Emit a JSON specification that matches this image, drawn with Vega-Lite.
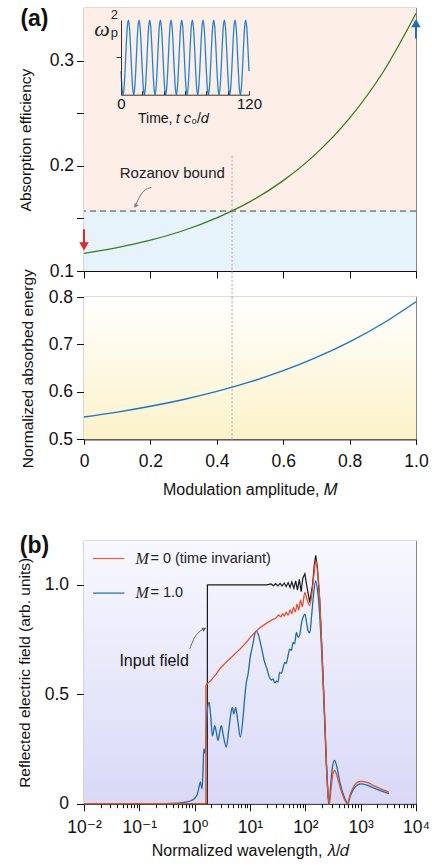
{
  "$schema": "https://vega.github.io/schema/vega-lite/v6.json",
  "background": "white",
  "padding": {"left": 16, "top": 7, "right": 0, "bottom": 0},
  "spacing": 26,
  "bounds": "flush",
  "config": {
    "font": "Liberation Sans, DejaVu Sans",
    "view": {"stroke": "#777777", "strokeWidth": 1.2},
    "axis": {
      "domainColor": "#111111", "tickColor": "#111111", "labelColor": "#111111", "titleColor": "#111111",
      "labelFont": "Liberation Sans, DejaVu Sans", "titleFont": "Liberation Sans, DejaVu Sans",
      "labelFontSize": 17.5, "titleFontSize": 15.5, "titleFontWeight": "normal",
      "grid": false, "tickSize": 7.5, "labelPadding": 3, "labelFlush": false, "domainWidth": 1, "tickWidth": 1, "zindex": 1
    },
    "text": {"font": "Liberation Sans, DejaVu Sans"}
  },
  "datasets": {
    "lines": [
      {"s": "in", "x": 0.01, "y": 0}, {"s": "in", "x": 1.69, "y": 0}, {"s": "in", "x": 1.7, "y": 1.0}, {"s": "in", "x": 3, "y": 1.0}, {"s": "in", "x": 10, "y": 1.0}, {"s": "in", "x": 20, "y": 1.0},
      {"s": "in", "x": 24, "y": 1.004}, {"s": "in", "x": 26.5, "y": 0.996}, {"s": "in", "x": 29, "y": 1.005}, {"s": "in", "x": 32, "y": 0.995}, {"s": "in", "x": 35, "y": 1.006}, {"s": "in", "x": 38, "y": 0.994},
      {"s": "in", "x": 41.5, "y": 1.008}, {"s": "in", "x": 45, "y": 0.992}, {"s": "in", "x": 49, "y": 1.01}, {"s": "in", "x": 53, "y": 0.988}, {"s": "in", "x": 57, "y": 1.013}, {"s": "in", "x": 62, "y": 0.984},
      {"s": "in", "x": 67, "y": 1.018}, {"s": "in", "x": 72, "y": 0.976}, {"s": "in", "x": 78, "y": 1.025}, {"s": "in", "x": 84, "y": 0.968}, {"s": "in", "x": 90, "y": 1.03}, {"s": "in", "x": 98, "y": 1.05},
      {"s": "in", "x": 108, "y": 0.985}, {"s": "in", "x": 120, "y": 0.92}, {"s": "in", "x": 135, "y": 1.0}, {"s": "in", "x": 145, "y": 1.09}, {"s": "in", "x": 154, "y": 1.135}, {"s": "in", "x": 165, "y": 1.08},
      {"s": "in", "x": 182, "y": 0.93}, {"s": "in", "x": 195, "y": 0.76}, {"s": "in", "x": 209, "y": 0.585}, {"s": "in", "x": 224, "y": 0.39}, {"s": "in", "x": 240, "y": 0.19}, {"s": "in", "x": 255, "y": 0.055}, {"s": "in", "x": 264, "y": 0},

      {"s": "m1", "x": 0.01, "y": 0}, {"s": "m1", "x": 0.3, "y": 0}, {"s": "m1", "x": 0.5, "y": 0.002}, {"s": "m1", "x": 0.71, "y": 0.008}, {"s": "m1", "x": 0.9, "y": 0.016}, {"s": "m1", "x": 1.0, "y": 0.025},
      {"s": "m1", "x": 1.1, "y": 0.04}, {"s": "m1", "x": 1.15, "y": 0.055}, {"s": "m1", "x": 1.22, "y": 0.085}, {"s": "m1", "x": 1.27, "y": 0.1}, {"s": "m1", "x": 1.32, "y": 0.08}, {"s": "m1", "x": 1.36, "y": 0.068},
      {"s": "m1", "x": 1.42, "y": 0.16}, {"s": "m1", "x": 1.46, "y": 0.25}, {"s": "m1", "x": 1.5, "y": 0.245}, {"s": "m1", "x": 1.56, "y": 0.228}, {"s": "m1", "x": 1.62, "y": 0.34}, {"s": "m1", "x": 1.7, "y": 0.43},
      {"s": "m1", "x": 1.82, "y": 0.464}, {"s": "m1", "x": 1.95, "y": 0.4}, {"s": "m1", "x": 2.09, "y": 0.31}, {"s": "m1", "x": 2.2, "y": 0.33}, {"s": "m1", "x": 2.3, "y": 0.357}, {"s": "m1", "x": 2.45, "y": 0.33},
      {"s": "m1", "x": 2.64, "y": 0.289}, {"s": "m1", "x": 2.85, "y": 0.33}, {"s": "m1", "x": 3.03, "y": 0.357}, {"s": "m1", "x": 3.3, "y": 0.31}, {"s": "m1", "x": 3.73, "y": 0.258}, {"s": "m1", "x": 4.1, "y": 0.33},
      {"s": "m1", "x": 4.5, "y": 0.41}, {"s": "m1", "x": 4.79, "y": 0.44}, {"s": "m1", "x": 5.1, "y": 0.41}, {"s": "m1", "x": 5.5, "y": 0.44}, {"s": "m1", "x": 6.0, "y": 0.38}, {"s": "m1", "x": 6.7, "y": 0.304},
      {"s": "m1", "x": 7.4, "y": 0.38}, {"s": "m1", "x": 8.0, "y": 0.48}, {"s": "m1", "x": 8.6, "y": 0.555}, {"s": "m1", "x": 9.2, "y": 0.59}, {"s": "m1", "x": 10.2, "y": 0.676}, {"s": "m1", "x": 11.3, "y": 0.73},
      {"s": "m1", "x": 12.2, "y": 0.775}, {"s": "m1", "x": 13, "y": 0.788}, {"s": "m1", "x": 14, "y": 0.775}, {"s": "m1", "x": 15.9, "y": 0.72}, {"s": "m1", "x": 18.4, "y": 0.646}, {"s": "m1", "x": 19.7, "y": 0.625},
      {"s": "m1", "x": 22.7, "y": 0.575}, {"s": "m1", "x": 24.3, "y": 0.565}, {"s": "m1", "x": 26, "y": 0.57}, {"s": "m1", "x": 28, "y": 0.552}, {"s": "m1", "x": 30, "y": 0.56}, {"s": "m1", "x": 32, "y": 0.555},
      {"s": "m1", "x": 34.4, "y": 0.6}, {"s": "m1", "x": 37, "y": 0.595}, {"s": "m1", "x": 40, "y": 0.625}, {"s": "m1", "x": 42.4, "y": 0.646}, {"s": "m1", "x": 45, "y": 0.64}, {"s": "m1", "x": 49, "y": 0.68},
      {"s": "m1", "x": 52, "y": 0.706}, {"s": "m1", "x": 56, "y": 0.7}, {"s": "m1", "x": 60, "y": 0.737}, {"s": "m1", "x": 64, "y": 0.73}, {"s": "m1", "x": 69, "y": 0.783}, {"s": "m1", "x": 74, "y": 0.76},
      {"s": "m1", "x": 79, "y": 0.77}, {"s": "m1", "x": 86, "y": 0.83}, {"s": "m1", "x": 92, "y": 0.855}, {"s": "m1", "x": 98, "y": 0.866}, {"s": "m1", "x": 105, "y": 0.83}, {"s": "m1", "x": 112, "y": 0.79},
      {"s": "m1", "x": 120, "y": 0.78}, {"s": "m1", "x": 130, "y": 0.86}, {"s": "m1", "x": 140, "y": 0.95}, {"s": "m1", "x": 154, "y": 1.018}, {"s": "m1", "x": 165, "y": 0.98}, {"s": "m1", "x": 182, "y": 0.86},
      {"s": "m1", "x": 195, "y": 0.72}, {"s": "m1", "x": 209, "y": 0.555}, {"s": "m1", "x": 224, "y": 0.37}, {"s": "m1", "x": 240, "y": 0.175}, {"s": "m1", "x": 255, "y": 0.05}, {"s": "m1", "x": 268, "y": 0},
      {"s": "m1", "x": 290, "y": 0.1}, {"s": "m1", "x": 310, "y": 0.17}, {"s": "m1", "x": 339, "y": 0.198}, {"s": "m1", "x": 370, "y": 0.17}, {"s": "m1", "x": 420, "y": 0.1}, {"s": "m1", "x": 490, "y": 0.04},
      {"s": "m1", "x": 550, "y": 0.01}, {"s": "m1", "x": 585, "y": 0}, {"s": "m1", "x": 650, "y": 0.035}, {"s": "m1", "x": 760, "y": 0.07}, {"s": "m1", "x": 900, "y": 0.087}, {"s": "m1", "x": 1020, "y": 0.091},
      {"s": "m1", "x": 1300, "y": 0.085}, {"s": "m1", "x": 1800, "y": 0.07}, {"s": "m1", "x": 2500, "y": 0.056}, {"s": "m1", "x": 3240, "y": 0.046},

      {"s": "m0", "x": 0.01, "y": 0}, {"s": "m0", "x": 1.59, "y": 0}, {"s": "m0", "x": 1.595, "y": 0.54}, {"s": "m0", "x": 1.7, "y": 0.548}, {"s": "m0", "x": 2, "y": 0.565}, {"s": "m0", "x": 2.4, "y": 0.59},
      {"s": "m0", "x": 2.83, "y": 0.615}, {"s": "m0", "x": 3.5, "y": 0.64}, {"s": "m0", "x": 4.2, "y": 0.66}, {"s": "m0", "x": 4.93, "y": 0.676}, {"s": "m0", "x": 6.5, "y": 0.705}, {"s": "m0", "x": 8.6, "y": 0.737},
      {"s": "m0", "x": 11, "y": 0.77}, {"s": "m0", "x": 14.6, "y": 0.8}, {"s": "m0", "x": 20, "y": 0.825}, {"s": "m0", "x": 25, "y": 0.84}, {"s": "m0", "x": 30, "y": 0.85}, {"s": "m0", "x": 33, "y": 0.862},
      {"s": "m0", "x": 36, "y": 0.853}, {"s": "m0", "x": 39, "y": 0.868}, {"s": "m0", "x": 42, "y": 0.857}, {"s": "m0", "x": 45, "y": 0.875}, {"s": "m0", "x": 49, "y": 0.861}, {"s": "m0", "x": 53, "y": 0.885},
      {"s": "m0", "x": 57, "y": 0.868}, {"s": "m0", "x": 61, "y": 0.897}, {"s": "m0", "x": 66, "y": 0.876}, {"s": "m0", "x": 71, "y": 0.912}, {"s": "m0", "x": 76, "y": 0.885}, {"s": "m0", "x": 82, "y": 0.93},
      {"s": "m0", "x": 88, "y": 0.9}, {"s": "m0", "x": 98, "y": 0.965}, {"s": "m0", "x": 108, "y": 0.93}, {"s": "m0", "x": 120, "y": 0.905}, {"s": "m0", "x": 135, "y": 0.985}, {"s": "m0", "x": 145, "y": 1.06},
      {"s": "m0", "x": 154, "y": 1.11}, {"s": "m0", "x": 165, "y": 1.07}, {"s": "m0", "x": 182, "y": 0.93}, {"s": "m0", "x": 195, "y": 0.76}, {"s": "m0", "x": 209, "y": 0.58}, {"s": "m0", "x": 224, "y": 0.39},
      {"s": "m0", "x": 240, "y": 0.19}, {"s": "m0", "x": 255, "y": 0.055}, {"s": "m0", "x": 272, "y": 0}, {"s": "m0", "x": 295, "y": 0.08}, {"s": "m0", "x": 315, "y": 0.135}, {"s": "m0", "x": 339, "y": 0.152},
      {"s": "m0", "x": 370, "y": 0.13}, {"s": "m0", "x": 420, "y": 0.08}, {"s": "m0", "x": 490, "y": 0.03}, {"s": "m0", "x": 540, "y": 0.008}, {"s": "m0", "x": 575, "y": 0}, {"s": "m0", "x": 650, "y": 0.045},
      {"s": "m0", "x": 760, "y": 0.082}, {"s": "m0", "x": 900, "y": 0.1}, {"s": "m0", "x": 1020, "y": 0.102}, {"s": "m0", "x": 1300, "y": 0.097}, {"s": "m0", "x": 1800, "y": 0.08}, {"s": "m0", "x": 2500, "y": 0.064},
      {"s": "m0", "x": 3240, "y": 0.053}
    ],
    "inset": [
      {"t":0,"w":0.632},{"t":1,"w":0.156},{"t":2,"w":0.002},{"t":3,"w":0.229},{"t":4,"w":0.751},{"t":5,"w":1.368},{"t":6,"w":1.844},{"t":7,"w":1.998},{"t":8,"w":1.771},{"t":9,"w":1.249},
      {"t":10,"w":0.632},{"t":11,"w":0.156},{"t":12,"w":0.002},{"t":13,"w":0.229},{"t":14,"w":0.751},{"t":15,"w":1.368},{"t":16,"w":1.844},{"t":17,"w":1.998},{"t":18,"w":1.771},{"t":19,"w":1.249},
      {"t":20,"w":0.632},{"t":21,"w":0.156},{"t":22,"w":0.002},{"t":23,"w":0.229},{"t":24,"w":0.751},{"t":25,"w":1.368},{"t":26,"w":1.844},{"t":27,"w":1.998},{"t":28,"w":1.771},{"t":29,"w":1.249},
      {"t":30,"w":0.632},{"t":31,"w":0.156},{"t":32,"w":0.002},{"t":33,"w":0.229},{"t":34,"w":0.751},{"t":35,"w":1.368},{"t":36,"w":1.844},{"t":37,"w":1.998},{"t":38,"w":1.771},{"t":39,"w":1.249},
      {"t":40,"w":0.632},{"t":41,"w":0.156},{"t":42,"w":0.002},{"t":43,"w":0.229},{"t":44,"w":0.751},{"t":45,"w":1.368},{"t":46,"w":1.844},{"t":47,"w":1.998},{"t":48,"w":1.771},{"t":49,"w":1.249},
      {"t":50,"w":0.632},{"t":51,"w":0.156},{"t":52,"w":0.002},{"t":53,"w":0.229},{"t":54,"w":0.751},{"t":55,"w":1.368},{"t":56,"w":1.844},{"t":57,"w":1.998},{"t":58,"w":1.771},{"t":59,"w":1.249},
      {"t":60,"w":0.632},{"t":61,"w":0.156},{"t":62,"w":0.002},{"t":63,"w":0.229},{"t":64,"w":0.751},{"t":65,"w":1.368},{"t":66,"w":1.844},{"t":67,"w":1.998},{"t":68,"w":1.771},{"t":69,"w":1.249},
      {"t":70,"w":0.632},{"t":71,"w":0.156},{"t":72,"w":0.002},{"t":73,"w":0.229},{"t":74,"w":0.751},{"t":75,"w":1.368},{"t":76,"w":1.844},{"t":77,"w":1.998},{"t":78,"w":1.771},{"t":79,"w":1.249},
      {"t":80,"w":0.632},{"t":81,"w":0.156},{"t":82,"w":0.002},{"t":83,"w":0.229},{"t":84,"w":0.751},{"t":85,"w":1.368},{"t":86,"w":1.844},{"t":87,"w":1.998},{"t":88,"w":1.771},{"t":89,"w":1.249},
      {"t":90,"w":0.632},{"t":91,"w":0.156},{"t":92,"w":0.002},{"t":93,"w":0.229},{"t":94,"w":0.751},{"t":95,"w":1.368},{"t":96,"w":1.844},{"t":97,"w":1.998},{"t":98,"w":1.771},{"t":99,"w":1.249},
      {"t":100,"w":0.632},{"t":101,"w":0.156},{"t":102,"w":0.002},{"t":103,"w":0.229},{"t":104,"w":0.751},{"t":105,"w":1.368},{"t":106,"w":1.844},{"t":107,"w":1.998},{"t":108,"w":1.771},{"t":109,"w":1.249},
      {"t":110,"w":0.632},{"t":111,"w":0.156},{"t":112,"w":0.002},{"t":113,"w":0.229},{"t":114,"w":0.751},{"t":115,"w":1.368},{"t":116,"w":1.844},{"t":117,"w":1.998},{"t":118,"w":1.771},{"t":119,"w":1.249},
      {"t":120,"w":0.632}
    ]
  },
  "vconcat": [
    {
      "width": 332,
      "height": 263,
      "layer": [
        {
          "layer": [
            {
              "data": {"values": [{"y0": 0.1, "y1": 0.157, "z": "b"}, {"y0": 0.157, "y1": 0.35, "z": "p"}]},
              "mark": {"type": "rect"},
              "encoding": {
                "x": {"datum": 0, "type": "quantitative", "scale": {"domain": [0, 1], "nice": false},
                      "axis": {"orient": "bottom", "values": [0, 0.2, 0.4, 0.6, 0.8, 1], "labels": false, "title": null, "tickSize": 7}},
                "x2": {"datum": 1},
                "y": {"field": "y0", "type": "quantitative", "scale": {"domain": [0.1, 0.35], "nice": false, "zero": false},
                      "axis": {"orient": "left", "values": [0.1, 0.15, 0.2, 0.25, 0.3], "labelExpr": "round(datum.value*100)%10==5 ? '' : format(datum.value,'.1f')", "title": "Absorption efficiency", "labelPadding": 3, "titlePadding": 16}},
                "y2": {"field": "y1"},
                "color": {"field": "z", "type": "nominal", "scale": {"domain": ["b", "p"], "range": ["#e6f3fb", "#fdeee8"]}, "legend": null}
              }
            },
            {
              "data": {"values": [{"y": 0.157}]},
              "mark": {"type": "rule", "color": "#444444", "strokeDash": [6, 4], "strokeWidth": 1},
              "encoding": {"y": {"field": "y", "type": "quantitative"}}
            },
            {
              "data": {"values": [{"m": 0.446, "ya": 0.2095, "yb": 0.0752}]},
              "mark": {"type": "rule", "color": "#cdbdbd", "strokeDash": [2, 2], "strokeWidth": 1.5},
              "encoding": {"x": {"field": "m", "type": "quantitative"}, "y": {"field": "ya", "type": "quantitative"}, "y2": {"field": "yb"}}
            },
            {
              "data": {"values": [
                {"m": 0, "a": 0.1167}, {"m": 0.1, "a": 0.1222}, {"m": 0.2, "a": 0.1293}, {"m": 0.3, "a": 0.1385}, {"m": 0.4, "a": 0.1505},
                {"m": 0.5, "a": 0.1659}, {"m": 0.6, "a": 0.1859}, {"m": 0.7, "a": 0.2118}, {"m": 0.8, "a": 0.2453}, {"m": 0.9, "a": 0.2887}, {"m": 1.0, "a": 0.3448}
              ]},
              "mark": {"type": "line", "color": "#3e7b1f", "strokeWidth": 1.3, "interpolate": "monotone"},
              "encoding": {"x": {"field": "m", "type": "quantitative"}, "y": {"field": "a", "type": "quantitative"}}
            },
            {
              "data": {"values": [{"m": 0, "ya": 0.1397, "yb": 0.126}]},
              "mark": {"type": "rule", "color": "#e0282b", "strokeWidth": 2},
              "encoding": {"x": {"field": "m", "type": "quantitative"}, "y": {"field": "ya", "type": "quantitative"}, "y2": {"field": "yb"}}
            },
            {
              "data": {"values": [{"m": 0, "a": 0.1235}]},
              "mark": {"type": "point", "shape": "triangle-down", "filled": true, "color": "#e0282b", "size": 90, "opacity": 1},
              "encoding": {"x": {"field": "m", "type": "quantitative"}, "y": {"field": "a", "type": "quantitative"}}
            },
            {
              "data": {"values": [{"m": 1, "ya": 0.321, "yb": 0.333}]},
              "mark": {"type": "rule", "color": "#1d6fb0", "strokeWidth": 2},
              "encoding": {"x": {"field": "m", "type": "quantitative"}, "y": {"field": "ya", "type": "quantitative"}, "y2": {"field": "yb"}}
            },
            {
              "data": {"values": [{"m": 1, "a": 0.3355}]},
              "mark": {"type": "point", "shape": "triangle-up", "filled": true, "color": "#1d6fb0", "size": 90, "opacity": 1},
              "encoding": {"x": {"field": "m", "type": "quantitative"}, "y": {"field": "a", "type": "quantitative"}}
            },
            {
              "data": {"values": [{"m": 0.203, "a": 0.1795}, {"m": 0.18, "a": 0.176}, {"m": 0.165, "a": 0.169}, {"m": 0.157, "a": 0.1635}]},
              "mark": {"type": "line", "color": "#777777", "strokeWidth": 1, "interpolate": "monotone"},
              "encoding": {"x": {"field": "m", "type": "quantitative"}, "y": {"field": "a", "type": "quantitative"}}
            },
            {
              "data": {"values": [{"m": 0.155, "a": 0.1618}]},
              "mark": {"type": "point", "shape": "triangle-up", "filled": true, "color": "#777777", "size": 22, "angle": 210, "opacity": 1},
              "encoding": {"x": {"field": "m", "type": "quantitative"}, "y": {"field": "a", "type": "quantitative"}}
            },
            {
              "data": {"values": [{"m": 0.266, "a": 0.193, "t": "Rozanov bound"}]},
              "mark": {"type": "text", "fontSize": 15, "color": "#222222"},
              "encoding": {"x": {"field": "m", "type": "quantitative"}, "y": {"field": "a", "type": "quantitative"}, "text": {"field": "t"}}
            },
            {
              "data": {"values": [{"m": -0.1916, "a": 0.35, "t": "(a)"}]},
              "mark": {"type": "text", "fontSize": 23, "fontWeight": "bold", "align": "left", "baseline": "top", "color": "#111111"},
              "encoding": {"x": {"field": "m", "type": "quantitative"}, "y": {"field": "a", "type": "quantitative"}, "text": {"field": "t"}}
            }
          ]
        },
        {
          "layer": [
            {
              "data": {"name": "inset"},
              "mark": {"type": "line", "color": "#2585cc", "strokeWidth": 1.3, "interpolate": "monotone"},
              "encoding": {
                "x": {"field": "t", "type": "quantitative", "scale": {"domain": [0, 120], "range": [37, 165], "nice": false},
                      "axis": {"orient": "bottom", "offset": -176.3, "values": [0, 20, 40, 60, 80, 100, 120], "labelExpr": "datum.value==0||datum.value==120 ? datum.label : ''", "tickSize": -4, "labelPadding": 6, "labelFontSize": 15, "title": "Time, 𝑡 𝑐₀/𝑑", "titleFontSize": 14, "titlePadding": 0, "titleX": 89, "domainColor": "#333333", "tickColor": "#333333", "zindex": 2}},
                "y": {"field": "w", "type": "quantitative", "scale": {"domain": [0, 2], "range": [86.7, 12], "nice": false, "zero": false},
                      "axis": {"orient": "left", "offset": -37, "values": [1], "labels": false, "title": null, "tickSize": 5, "domainColor": "#333333", "tickColor": "#333333", "zindex": 2}}
              }
            },
            {
              "data": {"values": [{"t": -17.8, "w": 1.77, "s": "ω"}]},
              "mark": {"type": "text", "font": "Liberation Serif, DejaVu Serif", "fontStyle": "italic", "fontSize": 22, "color": "#222222"},
              "encoding": {"x": {"field": "t", "type": "quantitative"}, "y": {"field": "w", "type": "quantitative"}, "text": {"field": "s"}}
            },
            {
              "data": {"values": [{"t": -6.3, "w": 2.13, "s": "2"}, {"t": -6.3, "w": 1.64, "s": "p"}]},
              "mark": {"type": "text", "fontSize": 13, "color": "#222222"},
              "encoding": {"x": {"field": "t", "type": "quantitative"}, "y": {"field": "w", "type": "quantitative"}, "text": {"field": "s"}}
            }
          ]
        }
      ],
      "resolve": {"scale": {"x": "independent", "y": "independent"}}
    },
    {
      "width": 332,
      "height": 142.3,
      "layer": [
        {
          "data": {"values": [{}]},
          "mark": {"type": "rect", "fill": {"gradient": "linear", "x1": 0, "y1": 0, "x2": 0, "y2": 1, "stops": [{"offset": 0, "color": "#ffffff"}, {"offset": 1, "color": "#fcf2c9"}]}},
          "encoding": {
            "x": {"datum": 0, "type": "quantitative", "scale": {"domain": [0, 1], "nice": false},
                  "axis": {"values": [0, 0.2, 0.4, 0.6, 0.8, 1], "labelExpr": "datum.value==0 ? '0' : format(datum.value,'.1f')", "title": "Modulation amplitude, 𝑀", "titleFontSize": 16, "tickSize": 5, "labelPadding": 8, "titlePadding": 12}},
            "x2": {"datum": 1},
            "y": {"datum": 0.5, "type": "quantitative", "scale": {"domain": [0.5, 0.8], "nice": false, "zero": false},
                  "axis": {"values": [0.5, 0.6, 0.7, 0.8], "format": ".1f", "title": "Normalized absorbed energy", "labelPadding": 4, "titlePadding": 13}},
            "y2": {"datum": 0.8}
          }
        },
        {
          "data": {"values": [{"m": 0.446, "ya": 0.5, "yb": 0.8}]},
          "mark": {"type": "rule", "color": "#cdbdbd", "strokeDash": [2, 2], "strokeWidth": 1.5},
          "encoding": {"x": {"field": "m", "type": "quantitative"}, "y": {"field": "ya", "type": "quantitative"}, "y2": {"field": "yb"}}
        },
        {
          "data": {"values": [
            {"m": 0, "e": 0.547}, {"m": 0.1, "e": 0.5573}, {"m": 0.2, "e": 0.5696}, {"m": 0.3, "e": 0.584}, {"m": 0.4, "e": 0.601},
            {"m": 0.5, "e": 0.621}, {"m": 0.6, "e": 0.6446}, {"m": 0.7, "e": 0.6726}, {"m": 0.8, "e": 0.7054}, {"m": 0.9, "e": 0.7441}, {"m": 1.0, "e": 0.79}
          ]},
          "mark": {"type": "line", "color": "#1a75c2", "strokeWidth": 1.4, "interpolate": "monotone"},
          "encoding": {"x": {"field": "m", "type": "quantitative"}, "y": {"field": "e", "type": "quantitative"}}
        }
      ]
    },
    {
      "width": 332,
      "height": 48.7,
      "view": {"stroke": null},
      "data": {"values": [{}]},
      "mark": {"type": "point", "opacity": 0},
      "encoding": {}
    },
    {
      "width": 332,
      "height": 262.7,
      "layer": [
        {
          "layer": [
            {
              "data": {"values": [{}]},
              "mark": {"type": "rect", "fill": {"gradient": "linear", "x1": 0, "y1": 0, "x2": 0, "y2": 1, "stops": [{"offset": 0, "color": "#f8f8ff"}, {"offset": 1, "color": "#d9d9f7"}]}},
              "encoding": {
                "x": {"datum": 0.01, "type": "quantitative", "scale": {"type": "log", "domain": [0.01, 10000], "nice": false},
                      "axis": {"orient": "bottom", "values": [0.01, 0.1, 1, 10, 100, 1000, 10000], "labelExpr": "datum.value < 0.05 ? '10⁻²' : datum.value < 0.5 ? '10⁻¹' : datum.value < 5 ? '10⁰' : datum.value < 50 ? '10¹' : datum.value < 500 ? '10²' : datum.value < 5000 ? '10³' : '10⁴'", "title": "Normalized wavelength, 𝜆/𝑑", "titleFontSize": 16, "tickSize": 7, "labelPadding": 8, "titlePadding": 6}},
                "x2": {"datum": 10000},
                "y": {"datum": 0, "type": "quantitative", "scale": {"domain": [0, 1.2], "nice": false},
                      "axis": {"values": [0, 0.5, 1], "labelExpr": "datum.value==0 ? '0' : format(datum.value,'.1f')", "title": "Reflected electric field (arb. units)", "labelPadding": 8, "titlePadding": 12}},
                "y2": {"datum": 1.2}
              }
            },
            {
              "data": {"name": "lines"},
              "transform": [{"filter": "datum.s == 'in'"}],
              "mark": {"type": "line", "color": "#1a1a1a", "strokeWidth": 1.2},
              "encoding": {"x": {"field": "x", "type": "quantitative"}, "y": {"field": "y", "type": "quantitative"}}
            },
            {
              "data": {"name": "lines"},
              "transform": [{"filter": "datum.s == 'm1'"}],
              "mark": {"type": "line", "color": "#1f6aa8", "strokeWidth": 1.3, "interpolate": "monotone"},
              "encoding": {"x": {"field": "x", "type": "quantitative"}, "y": {"field": "y", "type": "quantitative"}}
            },
            {
              "data": {"name": "lines"},
              "transform": [{"filter": "datum.s == 'm0'"}],
              "mark": {"type": "line", "color": "#e2522a", "strokeWidth": 1.3, "interpolate": "monotone"},
              "encoding": {"x": {"field": "x", "type": "quantitative"}, "y": {"field": "y", "type": "quantitative"}}
            },
            {
              "data": {"values": [{"xa": 0.01455, "xb": 0.0537, "y": 1.12}]},
              "mark": {"type": "rule", "color": "#ea5a48", "strokeWidth": 1.2},
              "encoding": {"x": {"field": "xa", "type": "quantitative"}, "x2": {"field": "xb"}, "y": {"field": "y", "type": "quantitative"}}
            },
            {
              "data": {"values": [{"xa": 0.01455, "xb": 0.0537, "y": 0.962}]},
              "mark": {"type": "rule", "color": "#1f6aa8", "strokeWidth": 1.2},
              "encoding": {"x": {"field": "xa", "type": "quantitative"}, "x2": {"field": "xb"}, "y": {"field": "y", "type": "quantitative"}}
            },
            {
              "data": {"values": [{"x": 0.0849, "y": 1.12, "t": "M"}, {"x": 0.0849, "y": 0.962, "t": "M"}]},
              "mark": {"type": "text", "align": "left", "font": "Liberation Serif, DejaVu Serif", "fontStyle": "italic", "fontSize": 16, "color": "#222222"},
              "encoding": {"x": {"field": "x", "type": "quantitative"}, "y": {"field": "y", "type": "quantitative"}, "text": {"field": "t"}}
            },
            {
              "data": {"values": [{"x": 0.1585, "y": 1.12, "t": "= 0 (time invariant)"}, {"x": 0.1585, "y": 0.962, "t": "= 1.0"}]},
              "mark": {"type": "text", "align": "left", "fontSize": 14.5, "color": "#222222"},
              "encoding": {"x": {"field": "x", "type": "quantitative"}, "y": {"field": "y", "type": "quantitative"}, "text": {"field": "t"}}
            },
            {
              "data": {"values": [{"x": 0.185, "y": 0.653, "t": "Input field"}]},
              "mark": {"type": "text", "fontSize": 16, "color": "#111111"},
              "encoding": {"x": {"field": "x", "type": "quantitative"}, "y": {"field": "y", "type": "quantitative"}, "text": {"field": "t"}}
            },
            {
              "data": {"values": [{"x": 0.814, "y": 0.7065}, {"x": 0.961, "y": 0.751}, {"x": 1.183, "y": 0.783}, {"x": 1.42, "y": 0.797}]},
              "mark": {"type": "line", "color": "#666666", "strokeWidth": 1, "interpolate": "monotone"},
              "encoding": {"x": {"field": "x", "type": "quantitative"}, "y": {"field": "y", "type": "quantitative"}}
            },
            {
              "data": {"values": [{"x": 1.5, "y": 0.799}]},
              "mark": {"type": "point", "shape": "triangle-up", "filled": true, "color": "#666666", "size": 22, "angle": 62, "opacity": 1},
              "encoding": {"x": {"field": "x", "type": "quantitative"}, "y": {"field": "y", "type": "quantitative"}}
            },
            {
              "data": {"values": [{"x": 0.00069, "y": 1.229, "t": "(b)"}]},
              "mark": {"type": "text", "fontSize": 23, "fontWeight": "bold", "align": "left", "baseline": "top", "color": "#111111"},
              "encoding": {"x": {"field": "x", "type": "quantitative"}, "y": {"field": "y", "type": "quantitative"}, "text": {"field": "t"}}
            }
          ]
        },
        {
          "data": {"values": [{}]},
          "mark": {"type": "point", "opacity": 0},
          "encoding": {
            "x": {"datum": 1, "type": "quantitative", "scale": {"type": "log"},
                  "axis": {"orient": "bottom", "values": [0.02,0.03,0.04,0.05,0.06,0.07,0.08,0.09,0.2,0.3,0.4,0.5,0.6,0.7,0.8,0.9,2,3,4,5,6,7,8,9,20,30,40,50,60,70,80,90,200,300,400,500,600,700,800,900,2000,3000,4000,5000,6000,7000,8000,9000], "labels": false, "tickSize": 4, "title": null, "domain": false}}
          }
        }
      ],
      "resolve": {"axis": {"x": "independent"}}
    }
  ]
}
